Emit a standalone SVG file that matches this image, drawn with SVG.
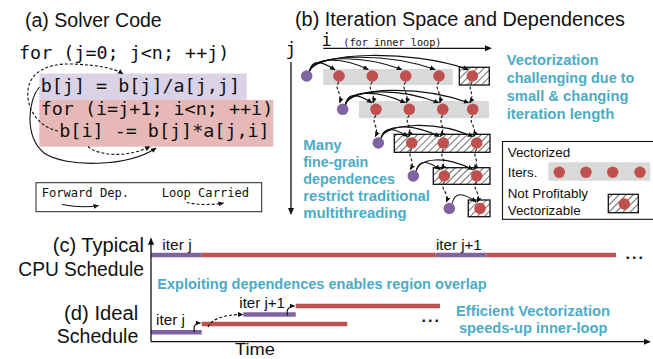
<svg xmlns="http://www.w3.org/2000/svg" width="653" height="359" viewBox="0 0 653 359">
  <defs>
    <style>
      .title { font-family: "Liberation Sans", Arial, sans-serif; font-size: 19.5px; fill: #111; }
      .code { font-family: "DejaVu Sans Mono", "Liberation Mono", monospace; font-size: 18.4px; fill: #111; }
      .mono-s { font-family: "DejaVu Sans Mono", "Liberation Mono", monospace; font-size: 12.1px; fill: #111; }
      .note { font-family: "Liberation Sans", Arial, sans-serif; font-weight: bold; font-size: 15px; fill: #4BACC6; }
      .lbl { font-family: "Liberation Sans", Arial, sans-serif; font-size: 13.4px; fill: #111; }
      .iter { font-family: "Liberation Sans", Arial, sans-serif; font-size: 15px; fill: #111; }
      .dots { font-family: "Liberation Sans", Arial, sans-serif; font-weight: bold; font-size: 16px; fill: #111; letter-spacing: 2px; }
      .pdot { fill: #8064A2; }
      .rdot { fill: #C0504D; }
      .vec { fill: #D9D9D9; }
      .nvec { fill: url(#hatch); stroke: #111; stroke-width: 1.3; }
      .dep { fill: none; stroke: #111; stroke-width: 1.1; marker-end: url(#ah); }
      .carry { fill: none; stroke: #111; stroke-width: 1.1; stroke-dasharray: 3 2; marker-end: url(#ah); }
      .axis { fill: none; stroke: #111; stroke-width: 1.3; marker-end: url(#axh); }
      .pbar { stroke: #8064A2; stroke-width: 4.5; }
      .rbar { stroke: #C0504D; stroke-width: 4.5; }
    </style>
    <marker id="ah" viewBox="0 0 10 10" refX="9" refY="5" markerWidth="5.5" markerHeight="5.5" markerUnits="userSpaceOnUse" orient="auto">
      <path d="M0,0.5 L10,5 L0,9.5 z" fill="#111"/>
    </marker>
    <marker id="axh" viewBox="0 0 10 10" refX="9" refY="5" markerWidth="7" markerHeight="7" markerUnits="userSpaceOnUse" orient="auto">
      <path d="M0,0.5 L10,5 L0,9.5 z" fill="#111"/>
    </marker>
    <pattern id="hatch" patternUnits="userSpaceOnUse" width="5" height="5" patternTransform="rotate(45)">
      <rect width="5" height="5" fill="#fff"/>
      <line x1="0" y1="0" x2="0" y2="5" stroke="#111" stroke-width="1.2"/>
    </pattern>
  </defs>

  <rect width="653" height="359" fill="#fff"/>

  <!-- (a) solver code -->
  <g id="panel-a-title">
    <text class="title" x="25" y="26.7" textLength="136.7" lengthAdjust="spacingAndGlyphs">(a) Solver Code</text>
  </g>
  <g id="code-outer-loop">
    <text class="code" x="19" y="59">for (j=0; j&lt;n; ++j)</text>
  </g>
  <g id="code-divide">
    <rect x="39.3" y="73.5" width="207.4" height="26.5" fill="#DAD3E6"/>
    <text class="code" x="40.7" y="92">b[j] = b[j]/a[j,j]</text>
  </g>
  <g id="code-inner-loop">
    <rect x="39.3" y="100" width="234" height="46.7" fill="#E6B9B8"/>
    <text class="code" x="40.7" y="114.5">for (i=j+1; i&lt;n; ++i)</text>
    <text class="code" x="59.3" y="137">b[i] -= b[j]*a[j,i]</text>
  </g>
  <g id="code-legend">
    <rect x="36" y="182.7" width="225.7" height="29" fill="none" stroke="#222" stroke-width="1"/>
    <text class="mono-s" x="41.7" y="196.7">Forward Dep.</text>
    <text class="mono-s" x="161.7" y="196.7">Loop Carried</text>
  </g>

  <!-- (b) iteration space -->
  <g id="panel-b-title">
    <text class="title" x="295" y="26" textLength="330" lengthAdjust="spacingAndGlyphs">(b) Iteration Space and Dependences</text>
  </g>
  <g id="axis-i">
    <text style="font-family:'DejaVu Sans Mono',monospace;font-size:17px;fill:#111" x="321.5" y="45.5">i</text>
    <text style="font-family:'DejaVu Sans Mono',monospace;font-size:10.2px;fill:#111" x="343.3" y="45.5">(for inner loop)</text>
  </g>
  <g id="axis-j">
    <text style="font-family:'DejaVu Sans Mono',monospace;font-size:18px;fill:#111" x="285.5" y="55">j</text>
  </g>

  <g id="row-1">
    <rect class="vec" x="323.3" y="69" width="129.4" height="16"/>
    <rect class="nvec" x="459.3" y="67.3" width="30" height="17.7"/>
    <circle class="pdot" cx="306.7" cy="76" r="5.8"/>
    <circle class="rdot" cx="339" cy="76" r="5.8"/>
    <circle class="rdot" cx="372.3" cy="76" r="5.8"/>
    <circle class="rdot" cx="405.7" cy="76" r="5.8"/>
    <circle class="rdot" cx="439" cy="76" r="5.8"/>
    <circle class="rdot" cx="472.3" cy="76" r="5.8"/>
  </g>
  <g id="row-2">
    <rect class="vec" x="359" y="101" width="130" height="17.3"/>
    <circle class="pdot" cx="342.7" cy="109.3" r="5.8"/>
    <circle class="rdot" cx="376" cy="109.3" r="5.8"/>
    <circle class="rdot" cx="409.3" cy="109.3" r="5.8"/>
    <circle class="rdot" cx="442.7" cy="109.3" r="5.8"/>
    <circle class="rdot" cx="472.7" cy="109.3" r="5.8"/>
  </g>
  <g id="row-3">
    <rect class="nvec" x="394.3" y="134.3" width="95.7" height="18"/>
    <circle class="pdot" cx="378.3" cy="143" r="5.8"/>
    <circle class="rdot" cx="411.7" cy="143" r="5.8"/>
    <circle class="rdot" cx="443.3" cy="143" r="5.8"/>
    <circle class="rdot" cx="476.7" cy="143" r="5.8"/>
  </g>
  <g id="row-4">
    <rect class="nvec" x="433.3" y="167.7" width="56.7" height="16.6"/>
    <circle class="pdot" cx="413.3" cy="176" r="5.8"/>
    <circle class="rdot" cx="444.3" cy="176" r="5.8"/>
    <circle class="rdot" cx="476.7" cy="176" r="5.8"/>
  </g>
  <g id="row-5">
    <rect class="nvec" x="468.3" y="200" width="21.7" height="16.7"/>
    <circle class="pdot" cx="449.3" cy="208.5" r="5.8"/>
    <circle class="rdot" cx="480" cy="208.5" r="5.8"/>
  </g>

  <g id="note-vectorization">
    <text class="note" x="506.7" y="65" textLength="91.7" lengthAdjust="spacingAndGlyphs">Vectorization</text>
    <text class="note" x="506.7" y="83" textLength="127.7" lengthAdjust="spacingAndGlyphs">challenging due to</text>
    <text class="note" x="506.7" y="101" textLength="121.7" lengthAdjust="spacingAndGlyphs">small  &amp; changing</text>
    <text class="note" x="506.7" y="119.3" textLength="107.7" lengthAdjust="spacingAndGlyphs">iteration length</text>
  </g>
  <g id="note-multithreading">
    <text class="note" x="303.3" y="149.5" textLength="38.4" lengthAdjust="spacingAndGlyphs">Many</text>
    <text class="note" x="303.3" y="166.5" textLength="65" lengthAdjust="spacingAndGlyphs">fine-grain</text>
    <text class="note" x="303.3" y="183.5" textLength="91.7" lengthAdjust="spacingAndGlyphs">dependences</text>
    <text class="note" x="303.3" y="200.5" textLength="126.7" lengthAdjust="spacingAndGlyphs">restrict traditional</text>
    <text class="note" x="303.3" y="217.5" textLength="103.3" lengthAdjust="spacingAndGlyphs">multithreading</text>
  </g>

  <g id="legend-b">
    <rect x="502.5" y="141.5" width="160" height="77.8" fill="none" stroke="#111" stroke-width="1.1"/>
    <text class="lbl" x="507.7" y="157.3">Vectorized</text>
    <text class="lbl" x="507.7" y="176.7">Iters.</text>
    <rect class="vec" x="548.3" y="162.3" width="102" height="18.4"/>
    <circle class="rdot" cx="559.3" cy="172.3" r="5.7"/>
    <circle class="rdot" cx="586" cy="172.3" r="5.7"/>
    <circle class="rdot" cx="612.7" cy="172.3" r="5.7"/>
    <circle class="rdot" cx="640" cy="172.3" r="5.7"/>
    <text class="lbl" x="507.7" y="198.3">Not Profitably</text>
    <text class="lbl" x="507.7" y="215">Vectorizable</text>
    <rect class="nvec" x="608.3" y="194.3" width="30" height="18.4"/>
    <circle class="rdot" cx="624.3" cy="204" r="5.7"/>
  </g>

  <!-- (c)/(d) schedules -->
  <g id="label-c">
    <text class="title" x="144" y="252.3" text-anchor="end" textLength="91.3" lengthAdjust="spacingAndGlyphs">(c) Typical</text>
    <text class="title" x="144" y="275.7" text-anchor="end" textLength="125.7" lengthAdjust="spacingAndGlyphs">CPU Schedule</text>
  </g>
  <g id="label-d">
    <text class="title" x="138.3" y="319.5" text-anchor="end" textLength="74.3" lengthAdjust="spacingAndGlyphs">(d) Ideal</text>
    <text class="title" x="138.3" y="343.3" text-anchor="end" textLength="81.6" lengthAdjust="spacingAndGlyphs">Schedule</text>
  </g>
  <g id="schedule-c">
    <line class="pbar" x1="151" y1="255" x2="201.7" y2="255"/>
    <line class="rbar" x1="201.7" y1="255" x2="435.7" y2="255"/>
    <line class="pbar" x1="435.7" y1="255" x2="486.7" y2="255"/>
    <line class="rbar" x1="486.7" y1="255" x2="616" y2="255"/>
    <text class="iter" x="162.3" y="250" textLength="29.4" lengthAdjust="spacingAndGlyphs">iter j</text>
    <text class="iter" x="436" y="250" textLength="45.7" lengthAdjust="spacingAndGlyphs">iter j+1</text>
    <text class="dots" x="625.5" y="259">...</text>
  </g>
  <g id="note-overlap">
    <text class="note" x="157.3" y="289" textLength="329.4" lengthAdjust="spacingAndGlyphs">Exploiting dependences enables region overlap</text>
  </g>
  <g id="schedule-d">
    <line class="pbar" x1="151" y1="332.2" x2="201.7" y2="332.2"/>
    <line class="rbar" x1="201.7" y1="324" x2="347.3" y2="324"/>
    <line class="pbar" x1="243.3" y1="314.5" x2="295.7" y2="314.5"/>
    <line class="rbar" x1="295.7" y1="306" x2="440" y2="306"/>
    <text class="iter" x="156" y="325" textLength="29" lengthAdjust="spacingAndGlyphs">iter j</text>
    <text class="iter" x="239.3" y="308.3" textLength="45.7" lengthAdjust="spacingAndGlyphs">iter j+1</text>
    <text class="dots" x="421.5" y="321.5">...</text>
  </g>
  <g id="note-efficient">
    <text class="note" x="456" y="315.7" textLength="154" lengthAdjust="spacingAndGlyphs">Efficient Vectorization</text>
    <text class="note" x="459" y="333.3" textLength="148.3" lengthAdjust="spacingAndGlyphs">speeds-up inner-loop</text>
  </g>
  <g id="label-time">
    <text class="title" x="235" y="355" textLength="40" lengthAdjust="spacingAndGlyphs" style="font-size:16px">Time</text>
  </g>

  <!-- connectors -->
  <g id="connectors">
    <!-- code dependences -->
    <path class="carry" d="M58,131 C38,127 26,108 28,90 C30,72 48,63 72,64 C98,65 114,68 123,74"/>
    <path class="dep" d="M39.5,87 C28,100 24,136 44,153 C66,168 128,167 156,148"/>
    <path class="carry" d="M88,146.5 C98,156 128,158 150,146.5"/>
    <!-- legend samples -->
    <path class="dep" d="M62,204.5 C75,207 88,207.5 98.5,205.5"/>
    <path class="carry" d="M186.7,202.5 C198,205 212,205 223.5,203"/>

    <!-- iteration space axes -->
    <line class="axis" x1="323.3" y1="48.3" x2="491" y2="48.3"/>
    <line class="axis" x1="291" y1="62" x2="291" y2="214"/>

    <!-- forward dependences, row 1 -->
    <path class="dep" d="M309.5,71 C312,59 322,61 335,70"/>
    <path class="dep" d="M309.5,71 C313,58 340,56 368.3,69.5"/>
    <path class="dep" d="M309.5,71 C314,56 360,54 401.7,69.5"/>
    <path class="dep" d="M309.5,71 C315,54 385,52 435,69.5"/>
    <path class="dep" d="M309.5,71 C316,52 410,49 468.3,69.5"/>
    <!-- forward dependences, row 2 -->
    <path class="dep" d="M345.5,104.3 C348,92 358,94 372,102.8"/>
    <path class="dep" d="M345.5,104.3 C349,91 376,89 405.3,102.8"/>
    <path class="dep" d="M345.5,104.3 C350,89 398,87 438.7,102.8"/>
    <path class="dep" d="M345.5,104.3 C351,87 420,85 468.7,102.8"/>
    <!-- forward dependences, row 3 -->
    <path class="dep" d="M381.1,138 C384,126 394,128 407.7,136.5"/>
    <path class="dep" d="M381.1,138 C385,125 410,122 439.3,136.5"/>
    <path class="dep" d="M381.1,138 C386,123 435,120 472.7,136.5"/>
    <!-- forward dependences, row 4 -->
    <path class="dep" d="M416.1,171 C419,159 428,161 440.3,169.5"/>
    <path class="dep" d="M416.1,171 C420,158 444,155 472.7,169.5"/>
    <!-- forward dependences, row 5 -->
    <path class="dep" d="M452.1,203.5 C455,191 464,193 476,202"/>

    <!-- loop-carried dependences, row 1 to 2 -->
    <path class="carry" d="M339,82 C333,89 343,93 339.7,102.8"/>
    <path class="carry" d="M372.3,82 C366,89 376,93 373,102.8"/>
    <path class="carry" d="M405.7,82 C400,89 410,93 406.3,102.8"/>
    <path class="carry" d="M439,82 C433,89 443,93 439.7,102.8"/>
    <path class="carry" d="M472.3,82 C466,89 476,93 469.7,102.8"/>
    <!-- row 2 to 3 -->
    <path class="carry" d="M376,115.3 C370,122 380,127 375.3,136.5"/>
    <path class="carry" d="M409.3,115.3 C403,122 413,127 408.7,136.5"/>
    <path class="carry" d="M442.7,115.3 C437,122 447,127 440.3,136.5"/>
    <path class="carry" d="M472.7,115.3 C467,122 478,127 473.7,136.5"/>
    <!-- row 3 to 4 -->
    <path class="carry" d="M411.7,149 C406,156 416,160 410.3,169.5"/>
    <path class="carry" d="M443.3,149 C438,156 448,160 441.3,169.5"/>
    <path class="carry" d="M476.7,149 C471,156 481,160 473.7,169.5"/>
    <!-- row 4 to 5 -->
    <path class="carry" d="M444.3,182 C439,189 450,193 446.3,202"/>
    <path class="carry" d="M476.7,182 C471,189 482,193 477,202"/>

    <!-- schedule axes -->
    <line class="axis" x1="151" y1="341.7" x2="151" y2="238.5"/>
    <line class="axis" x1="151" y1="341.7" x2="650" y2="341.7"/>

    <!-- overlap arrows -->
    <path class="dep" d="M194.5,332 C193,326 195,323 200.5,323"/>
    <path class="carry" d="M208,327 C212,318 226,314.5 243,314.5"/>
    <path class="dep" d="M287.5,315.5 C286,310 288.5,306 294.5,306"/>
  </g>
</svg>
